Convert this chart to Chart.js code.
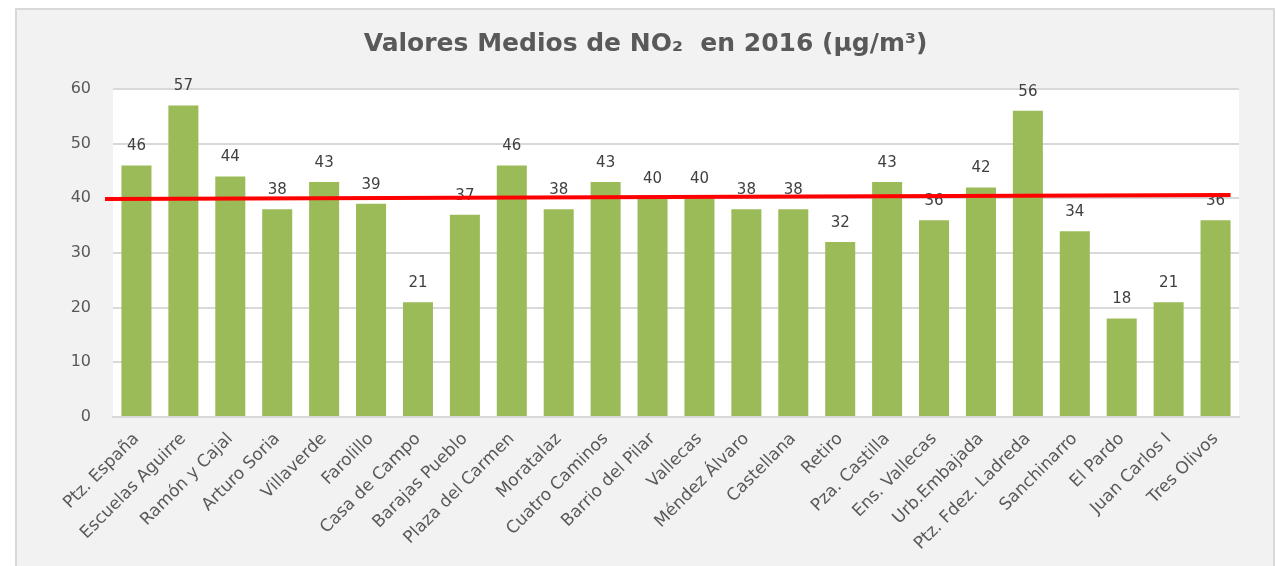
<!DOCTYPE html>
<html>
<head>
<meta charset="utf-8">
<script src="https://cdn.jsdelivr.net/npm/chart.js@4.4.0/dist/chart.umd.min.js"></script>
<style>
  body { margin: 0; background: #fff; width: 1276px; height: 566px; overflow: hidden; position: relative; }
  #marco { position: absolute; left: 15px; top: 8px; width: 1256px; height: 600px; background: #f2f2f2; border: 2px solid #d9d9d9; }
  #grafico { position: absolute; left: 0; top: 0; }
</style>
</head>
<body>
<div id="marco"></div>
<canvas id="grafico" width="1276" height="566"></canvas>
<script>
// estaciones y valores medios anuales
var estaciones = ['Ptz. España', 'Escuelas Aguirre', 'Ramón y Cajal', 'Arturo Soria', 'Villaverde', 'Farolillo',
    'Casa de Campo', 'Barajas Pueblo', 'Plaza del Carmen', 'Moratalaz', 'Cuatro Caminos', 'Barrio del Pilar',
    'Vallecas', 'Méndez Álvaro', 'Castellana', 'Retiro', 'Pza. Castilla', 'Ens. Vallecas', 'Urb.Embajada',
    'Ptz. Fdez. Ladreda', 'Sanchinarro', 'El Pardo', 'Juan Carlos I', 'Tres Olivos'];
var valores = [46, 57, 44, 38, 43, 39, 21, 37, 46, 38, 43, 40, 40, 38, 38, 32, 43, 36, 42, 56, 34, 18, 21, 36];
var ejeY = [0, 10, 20, 30, 40, 50, 60];
// valor límite (linea roja), inicio y fin
var limite = [39.9, 40.6];

var fuente = 'DejaVu Sans';

// fondo blanco del area de trazado
var fondoPlot = {
    id: 'fondoPlot',
    beforeDraw: function (chart) {
        var a = chart.chartArea;
        var c = chart.ctx;
        c.save();
        c.fillStyle = '#ffffff';
        c.fillRect(a.left, a.top, a.right - a.left, a.bottom - a.top);
        c.restore();
    }
};

// etiquetas de valor y linea del limite
var etiquetas = {
    id: 'etiquetas',
    afterDatasetsDraw: function (chart) {
        var c = chart.ctx;
        var meta = chart.getDatasetMeta(0);
        c.save();
        c.font = '15px ' + fuente;
        c.fillStyle = '#404040';
        c.textAlign = 'center';
        c.textBaseline = 'middle';
        meta.data.forEach(function (bar, i) {
            c.fillText(valores[i], bar.x, bar.y - 19);
        });
        var y = chart.scales.y;
        var ultima = meta.data[meta.data.length - 1];
        c.strokeStyle = '#ff0000';
        c.lineWidth = 4;
        c.beginPath();
        c.moveTo(chart.chartArea.left - 8, y.getPixelForValue(limite[0]));
        c.lineTo(ultima.x + ultima.width / 2, y.getPixelForValue(limite[1]));
        c.stroke();
        c.restore();
    }
};

var ctx = document.getElementById('grafico').getContext('2d');
var grafico = new Chart(ctx, {
    type: 'bar',
    data: {
        labels: estaciones,
        datasets: [{
            label: 'NO2',
            data: valores,
            backgroundColor: '#9bbb59',
            barPercentage: 0.64,
            categoryPercentage: 1
        }]
    },
    options: {
        responsive: false,
        animation: false,
        layout: { padding: { left: 52, right: 37, top: 0, bottom: 0 } },
        plugins: {
            legend: { display: false },
            tooltip: { enabled: false },
            title: {
                display: true,
                text: 'Valores Medios de NO₂  en 2016 (µg/m³)',
                color: '#595959',
                font: { family: fuente, size: 25, weight: 'bold' },
                padding: { top: 29, bottom: 30 }
            }
        },
        scales: {
            x: {
                grid: { display: false },
                border: { color: '#d9d9d9', width: 2 },
                ticks: {
                    color: '#595959',
                    font: { family: fuente, size: 17 },
                    minRotation: 45,
                    maxRotation: 45,
                    autoSkip: false,
                    padding: 4
                },
                afterFit: function (scale) { scale.height = 149; }
            },
            y: {
                min: 0,
                max: 60,
                afterBuildTicks: function (scale) {
                    scale.ticks = ejeY.map(function (v) { return { value: v }; });
                },
                grid: { color: '#d9d9d9', lineWidth: 2, drawTicks: false },
                border: { display: false },
                ticks: {
                    color: '#595959',
                    font: { family: fuente, size: 16 },
                    padding: 22
                },
                afterFit: function (scale) { scale.width = 61; }
            }
        }
    },
    plugins: [fondoPlot, etiquetas]
});
</script>
</body>
</html>
